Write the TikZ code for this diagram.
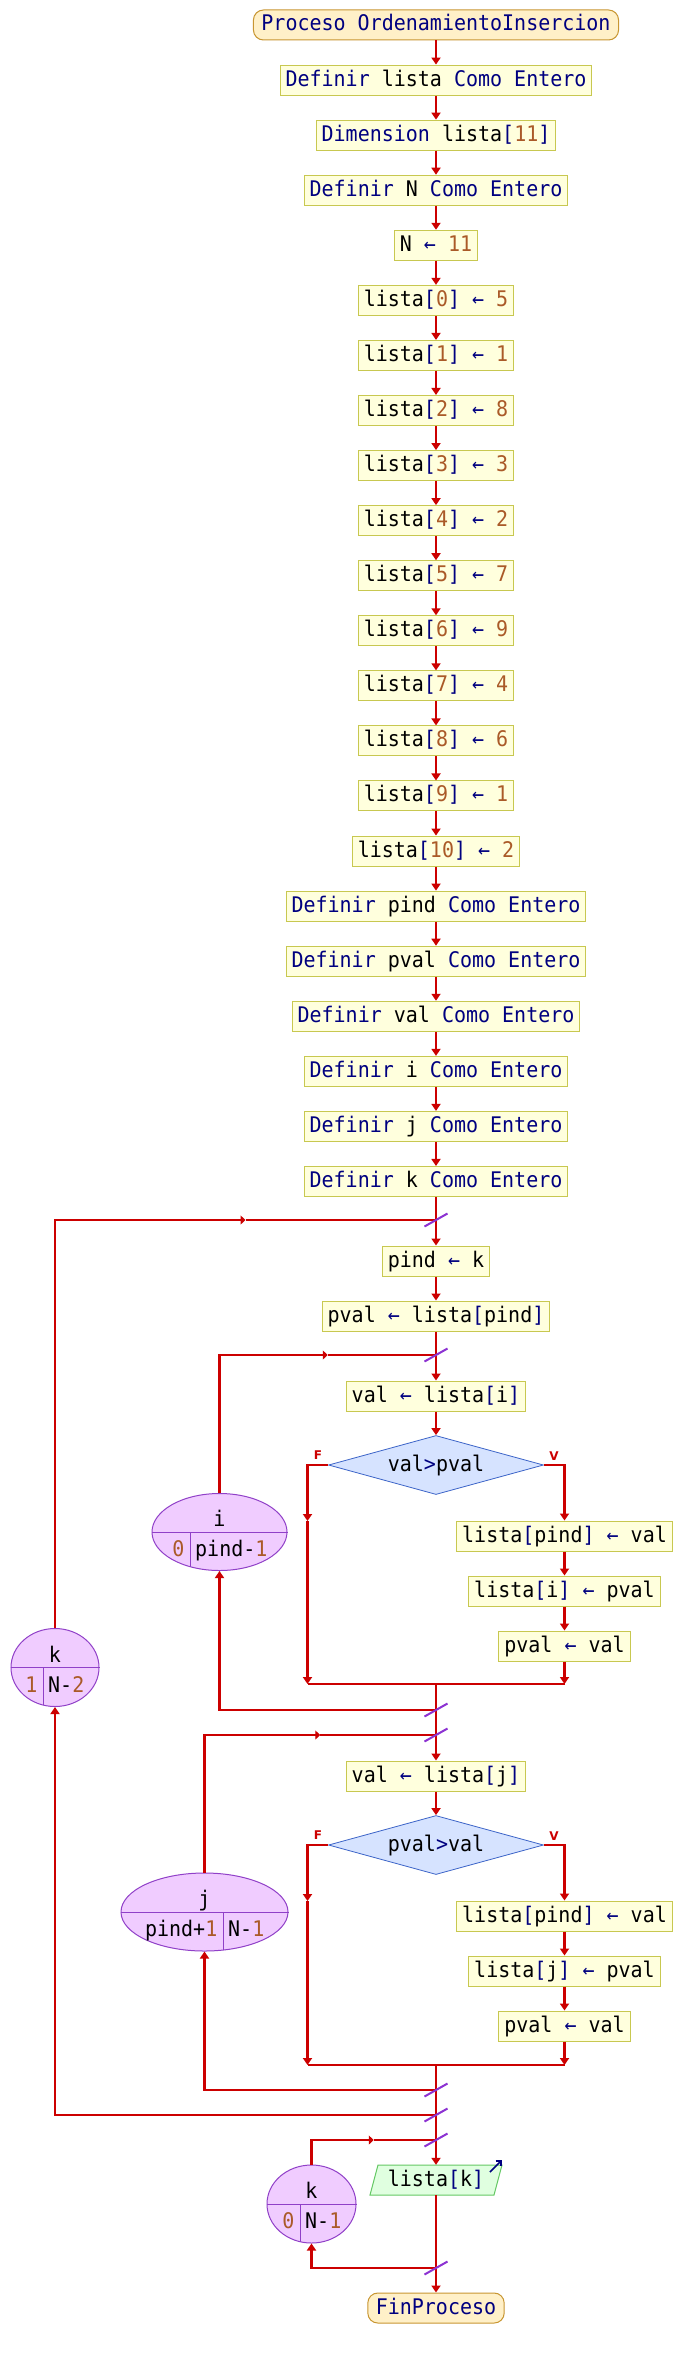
\documentclass[tikz,border=0pt]{standalone}
\usepackage{fontspec}
\newfontfamily\pmono[FakeStretch=0.93]{DejaVu Sans Mono}
\newfontfamily\plab{DejaVu Sans}
\usetikzlibrary{arrows.meta,shapes.geometric}
\definecolor{flowred}{RGB}{204,0,0}
\definecolor{kwc}{RGB}{0,0,128}
\definecolor{numc}{RGB}{170,90,40}
\definecolor{boxfill}{RGB}{255,255,221}
\definecolor{boxline}{RGB}{200,200,80}
\definecolor{termfill}{RGB}{255,240,200}
\definecolor{termline}{RGB}{200,150,50}
\definecolor{decfill}{RGB}{214,227,255}
\definecolor{decline}{RGB}{60,100,200}
\definecolor{loopfill}{RGB}{240,204,255}
\definecolor{loopline}{RGB}{144,64,200}
\definecolor{slashc}{RGB}{140,50,210}
\definecolor{outfill}{RGB}{224,255,224}
\definecolor{outborder}{RGB}{100,200,100}
\newcommand{\myK}[1]{\textcolor{kwc}{#1}}
\newcommand{\myN}[1]{\textcolor{numc}{#1}}
\newcommand{\myA}{\textcolor{kwc}{←}}
\newcommand{\myL}{\textcolor{kwc}{[}}
\newcommand{\myR}{\textcolor{kwc}{]}}
\tikzset{
  every node/.style={font=\pmono\fontsize{21.5}{24}\selectfont, text height=18pt, text depth=6pt},
  procbox/.style={draw=boxline, fill=boxfill, line width=1pt, inner xsep=5.5pt, inner ysep=3pt, minimum height=30pt},
  termbox/.style={draw=termline, fill=termfill, line width=1pt, rounded corners=10pt, inner xsep=8pt, inner ysep=3pt, minimum height=30pt},
  decbox/.style={diamond, draw=decline, fill=decfill, line width=0.8pt, aspect=3.64, minimum width=215pt, minimum height=59pt, inner sep=0pt},
  loopell/.style={ellipse, draw=loopline, fill=loopfill, line width=1pt, inner sep=0pt},
  celltext/.style={inner sep=0pt},
  outtext/.style={inner xsep=5pt, inner ysep=3pt, minimum height=30pt},
  flow/.style={draw=flowred, line width=2.2pt},
  arr/.style={flow, -{Triangle[width=9pt,length=7pt]}},
  midarr/.style={flow, -{Triangle[width=9pt,length=5pt]}},
  slash/.style={draw=slashc, line width=2pt},
  divider/.style={draw=loopline, line width=1pt},
  flag/.style={text=flowred, font=\plab\bfseries\fontsize{12}{12}\selectfont, inner sep=0pt, text height=9pt, text depth=0pt}
}
\begin{document}
\begin{tikzpicture}[x=1pt,y=-1pt]
\useasboundingbox (0,0) rectangle (682,2358);
\fill[white] (0,0) rectangle (682,2358);

% main column
\node[termbox] (start) at (436,25) {\myK{Proceso OrdenamientoInsercion}};
\node[procbox] (dl) at (436,80.07) {\myK{Definir} lista \myK{Como Entero}};
\node[procbox] (dim) at (436,135.14) {\myK{Dimension} lista\myL\myN{11}\myR};
\node[procbox] (dn) at (436,190.21) {\myK{Definir} N \myK{Como Entero}};
\node[procbox] (an) at (436,245.28) {N \myA{} \myN{11}};
\node[procbox] (l0) at (436,300.35) {lista\myL\myN{0}\myR{} \myA{} \myN{5}};
\node[procbox] (l1) at (436,355.42) {lista\myL\myN{1}\myR{} \myA{} \myN{1}};
\node[procbox] (l2) at (436,410.49) {lista\myL\myN{2}\myR{} \myA{} \myN{8}};
\node[procbox] (l3) at (436,465.56) {lista\myL\myN{3}\myR{} \myA{} \myN{3}};
\node[procbox] (l4) at (436,520.63) {lista\myL\myN{4}\myR{} \myA{} \myN{2}};
\node[procbox] (l5) at (436,575.70) {lista\myL\myN{5}\myR{} \myA{} \myN{7}};
\node[procbox] (l6) at (436,630.77) {lista\myL\myN{6}\myR{} \myA{} \myN{9}};
\node[procbox] (l7) at (436,685.84) {lista\myL\myN{7}\myR{} \myA{} \myN{4}};
\node[procbox] (l8) at (436,740.91) {lista\myL\myN{8}\myR{} \myA{} \myN{6}};
\node[procbox] (l9) at (436,795.98) {lista\myL\myN{9}\myR{} \myA{} \myN{1}};
\node[procbox] (l10) at (436,851.05) {lista\myL\myN{10}\myR{} \myA{} \myN{2}};
\node[procbox] (dp) at (436,906.12) {\myK{Definir} pind \myK{Como Entero}};
\node[procbox] (dpv) at (436,961.19) {\myK{Definir} pval \myK{Como Entero}};
\node[procbox] (dv) at (436,1016.26) {\myK{Definir} val \myK{Como Entero}};
\node[procbox] (di) at (436,1071.33) {\myK{Definir} i \myK{Como Entero}};
\node[procbox] (dj) at (436,1126.40) {\myK{Definir} j \myK{Como Entero}};
\node[procbox] (dk) at (436,1181.47) {\myK{Definir} k \myK{Como Entero}};

\node[procbox] (pk) at (436,1261) {pind \myA{} k};
\node[procbox] (pv) at (436,1316) {pval \myA{} lista\myL pind\myR};
\node[procbox] (vi) at (436,1396) {val \myA{} lista\myL i\myR};
\node[decbox] (c1) at (436,1465) {val\myK{>}pval};
\node[procbox] (r1) at (564.5,1536) {lista\myL pind\myR{} \myA{} val};
\node[procbox] (r2) at (564.5,1591) {lista\myL i\myR{} \myA{} pval};
\node[procbox] (r3) at (564.5,1646) {pval \myA{} val};

\node[procbox] (vj) at (436,1776) {val \myA{} lista\myL j\myR};
\node[decbox] (c2) at (436,1845) {pval\myK{>}val};
\node[procbox] (s1) at (564.5,1916) {lista\myL pind\myR{} \myA{} val};
\node[procbox] (s2) at (564.5,1971) {lista\myL j\myR{} \myA{} pval};
\node[procbox] (s3) at (564.5,2026) {pval \myA{} val};

\path[draw=outborder, fill=outfill, line width=1pt] (370,2195) -- (378,2165) -- (502,2165) -- (494,2195) -- cycle;
\node[outtext] (out) at (436,2180) {lista\myL k\myR};
\draw[kwc, line width=1.6pt, -{Straight Barb[length=4pt,width=8pt]}] ([shift={(54,-8)}]out.center) -- ([shift={(66,-20)}]out.center);

\node[termbox] (fin) at (436,2308) {\myK{FinProceso}};

% flags
\node[flag] (f1l) at (318,1455) {F};
\node[flag] (v1l) at (554,1456) {V};
\node[flag] (f2l) at (318,1835) {F};
\node[flag] (v2l) at (554,1836) {V};

% loop ellipses
\node[loopell, minimum width=88pt, minimum height=78pt] (ek) at (55,1667.5) {};
\node[loopell, minimum width=135pt, minimum height=77pt] (ei) at (219.5,1532) {};
\node[loopell, minimum width=167pt, minimum height=78pt] (ej) at (204.5,1912) {};
\node[loopell, minimum width=89pt, minimum height=78pt] (eq) at (311.5,2204) {};
\draw[divider] (ek.west) -- (ek.east);
\draw[divider] (ei.west) -- (ei.east);
\draw[divider] (ej.west) -- (ej.east);
\draw[divider] (eq.west) -- (eq.east);
\begin{scope}
\clip (55,1667.5) ellipse [x radius=44pt, y radius=39pt];
\draw[divider] (43,1667.5) -- (43,1720);
\end{scope}
\begin{scope}
\clip (219.5,1532) ellipse [x radius=67.5pt, y radius=38.5pt];
\draw[divider] (190,1532) -- (190,1580);
\end{scope}
\begin{scope}
\clip (204.5,1912) ellipse [x radius=83.5pt, y radius=39pt];
\draw[divider] (223,1912) -- (223,1960);
\end{scope}
\begin{scope}
\clip (311.5,2204) ellipse [x radius=44.5pt, y radius=39pt];
\draw[divider] (300,2204) -- (300,2250);
\end{scope}
\node[celltext] (ek-v) at (55,1656) {k};
\node[celltext, anchor=east] (ek-a) at (37.5,1686) {\myN{1}};
\node[celltext, anchor=west] (ek-b) at (48,1686) {N-\myN{2}};
\node[celltext] (ei-v) at (219.5,1520.5) {i};
\node[celltext, anchor=east] (ei-a) at (184.5,1550.5) {\myN{0}};
\node[celltext, anchor=west] (ei-b) at (195,1550.5) {pind-\myN{1}};
\node[celltext] (ej-v) at (204.5,1900.5) {j};
\node[celltext, anchor=east] (ej-a) at (217.5,1930.5) {pind+\myN{1}};
\node[celltext, anchor=west] (ej-b) at (228,1930.5) {N-\myN{1}};
\node[celltext] (eq-v) at (311.5,2192.5) {k};
\node[celltext, anchor=east] (eq-a) at (294.5,2222.5) {\myN{0}};
\node[celltext, anchor=west] (eq-b) at (305,2222.5) {N-\myN{1}};

% junction coordinates
\coordinate (jk1) at (436,1220);
\coordinate (ji1) at (436,1355);
\coordinate (ji2) at (436,1710);
\coordinate (jj1) at (436,1735);
\coordinate (jj2) at (436,2090);
\coordinate (jk2) at (436,2115);
\coordinate (jq1) at (436,2140);
\coordinate (jq2) at (436,2268);
\coordinate (mk) at (245.5,1220);
\coordinate (mi) at (327.75,1355);
\coordinate (mj) at (320.25,1735);
\coordinate (mq) at (373.75,2140);
\coordinate (f1a) at (307.5,1521);
\coordinate (f1b) at (307.5,1684);
\coordinate (v1b) at (564.5,1684);
\coordinate (jn1) at (436,1684);
\coordinate (f2a) at (307.5,1901);
\coordinate (f2b) at (307.5,2065);
\coordinate (v2b) at (564.5,2065);
\coordinate (jn2) at (436,2065);

% main connectors
\draw[arr] (start) -- (dl);
\draw[arr] (dl) -- (dim);
\draw[arr] (dim) -- (dn);
\draw[arr] (dn) -- (an);
\draw[arr] (an) -- (l0);
\draw[arr] (l0) -- (l1);
\draw[arr] (l1) -- (l2);
\draw[arr] (l2) -- (l3);
\draw[arr] (l3) -- (l4);
\draw[arr] (l4) -- (l5);
\draw[arr] (l5) -- (l6);
\draw[arr] (l6) -- (l7);
\draw[arr] (l7) -- (l8);
\draw[arr] (l8) -- (l9);
\draw[arr] (l9) -- (l10);
\draw[arr] (l10) -- (dp);
\draw[arr] (dp) -- (dpv);
\draw[arr] (dpv) -- (dv);
\draw[arr] (dv) -- (di);
\draw[arr] (di) -- (dj);
\draw[arr] (dj) -- (dk);
\draw[arr] (dk) -- (pk);
\draw[arr] (pk) -- (pv);
\draw[arr] (pv) -- (vi);
\draw[arr] (vi) -- (c1);
% first decision
\draw[arr] (c1.west) -| (f1a);
\draw[arr] (f1a) -- (f1b);
\draw[arr] (c1.east) -| (r1.north);
\draw[arr] (r1) -- (r2);
\draw[arr] (r2) -- (r3);
\draw[arr] (r3) -- (v1b);
\draw[flow] (f1b) -- (v1b);
\draw[arr] (jn1) -- (vj);
\draw[arr] (vj) -- (c2);
% second decision
\draw[arr] (c2.west) -| (f2a);
\draw[arr] (f2a) -- (f2b);
\draw[arr] (c2.east) -| (s1.north);
\draw[arr] (s1) -- (s2);
\draw[arr] (s2) -- (s3);
\draw[arr] (s3) -- (v2b);
\draw[flow] (f2b) -- (v2b);
\draw[arr] (jn2) -- (out);
\draw[arr] (out) -- (fin);
% loops
\draw[midarr] (ek.north) |- (mk);
\draw[flow] (mk) -- (jk1);
\draw[arr] (jk2) -| (ek.south);
\draw[midarr] (ei.north) |- (mi);
\draw[flow] (mi) -- (ji1);
\draw[arr] (ji2) -| (ei.south);
\draw[midarr] (ej.north) |- (mj);
\draw[flow] (mj) -- (jj1);
\draw[arr] (jj2) -| (ej.south);
\draw[midarr] (eq.north) |- (mq);
\draw[flow] (mq) -- (jq1);
\draw[arr] (jq2) -| (eq.south);
% junction slashes
\foreach \c in {jk1,ji1,ji2,jj1,jj2,jk2,jq1,jq2}
  \draw[slash] ([shift={(-11.5,6.5)}]\c) -- ([shift={(11.5,-6.5)}]\c);
\end{tikzpicture}
\end{document}
